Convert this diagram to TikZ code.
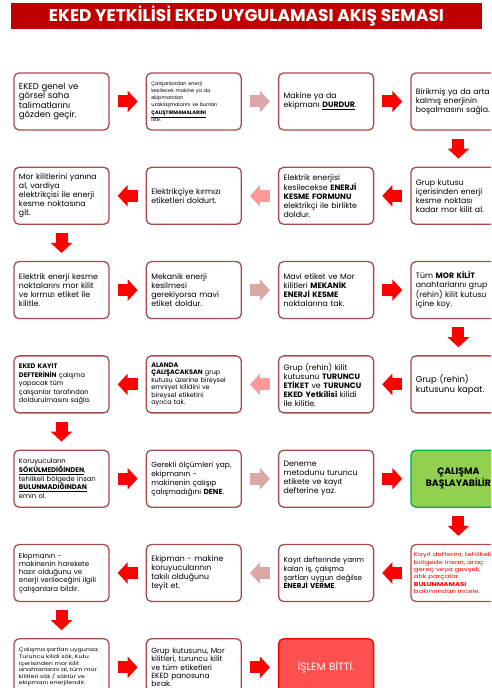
\documentclass[tikz,border=0pt]{standalone}
\usepackage{fontspec}
\setmainfont{Poppins}
\newfontfamily\widefont{Poppins}[FakeStretch=1.25]
\usetikzlibrary{positioning,arrows.meta}

\definecolor{boxline}{HTML}{A94B4B}
\definecolor{titlered}{HTML}{C00000}
\definecolor{palearrow}{HTML}{DBA8A8}
\definecolor{pinkarrow}{HTML}{FF9999}
\definecolor{okgreen}{HTML}{92D050}
\definecolor{okline}{HTML}{00B050}
\definecolor{endred}{HTML}{FF5050}

\tikzset{
  stepbox/.style={draw=boxline, line width=1.3pt, rounded corners=5pt, fill=white,
    text width=85pt, inner xsep=5pt, inner ysep=2pt, minimum height=57pt,
    align=left, font=\fontsize{7.8}{9}\selectfont},
  tinybox/.style={stepbox, font=\fontsize{5}{7.2}\selectfont},
  flow/.style={draw=red, line width=12pt, shorten <=8pt, shorten >=8pt,
    -{Triangle[width=21pt,length=10pt]}},
  paleflow/.style={flow, draw=palearrow},
  pinkflow/.style={flow, draw=pinkarrow},
}

\begin{document}
\begin{tikzpicture}[x=1pt, y=1pt, node distance=36pt]
  \useasboundingbox (0,0) rectangle (491,688);
  \clip (0,0) rectangle (491,688);

  \node[fill=titlered, minimum width=471pt, minimum height=26pt, inner sep=0pt,
    text=white, font=\bfseries\fontsize{17}{19}\selectfont] (title) at (246.5,672)
    {EKED YETKİLİSİ EKED UYGULAMASI AKIŞ SEMASI};

  % row 1
  \node[stepbox, font=\fontsize{8.5}{9.5}\selectfont] (n1) at (61.5,586.5)
    {EKED genel ve\\görsel saha\\talimatlarını\\gözden geçir.};
  \node[tinybox] (n2) [right=of n1]
    {Çalışanlardan enerji\\kesilecek makine ya da\\ekipmandan\\uzaklaşmalarını ve bunları\\\underline{\textbf{ÇALIŞTIRMAMALARINI}}\\iste.};
  \node[stepbox] (n3) [right=of n2]
    {Makine ya da\\ekipmanı \underline{\textbf{DURDUR}}.};
  \node[stepbox] (n4) [right=of n3]
    {Birikmiş ya da arta\\kalmış enerjinin\\boşalmasını sağla.};

  % row 2
  \node[stepbox] (n5) [below=of n4]
    {Grup kutusu\\içerisinden enerji\\kesme noktası\\kadar mor kilit al.};
  \node[stepbox] (n6) [left=of n5]
    {Elektrik enerjisi\\kesilecekse \textbf{ENERJİ}\\\textbf{KESME FORMUNU}\\elektrikçi ile birlikte\\doldur.};
  \node[stepbox] (n7) [left=of n6]
    {Elektrikçiye kırmızı\\etiketleri doldurt.};
  \node[stepbox] (n8) [left=of n7]
    {Mor kilitlerini yanına\\al, vardiya\\elektrikçisi ile enerji\\kesme noktasına\\git.};

  % row 3
  \node[stepbox] (n9) [below=of n8]
    {Elektrik enerji kesme\\noktalarını mor kilit\\ve kırmızı etiket ile\\kilitle.};
  \node[stepbox] (n10) [right=of n9]
    {Mekanik enerji\\kesilmesi\\gerekiyorsa mavi\\etiket doldur.};
  \node[stepbox] (n11) [right=of n10]
    {Mavi etiket ve Mor\\kilitleri \textbf{MEKANİK}\\\textbf{ENERJİ KESME}\\noktalarına tak.};
  \node[stepbox] (n12) [right=of n11]
    {Tüm \textbf{MOR KİLİT}\\anahtarlarını grup\\(rehin) kilit kutusu\\içine koy.};

  % row 4
  \node[stepbox, font=\fontsize{8.5}{9.5}\selectfont] (n13) [below=of n12]
    {Grup (rehin)\\kutusunu kapat.};
  \node[stepbox] (n14) [left=of n13]
    {Grup (rehin) kilit\\kutusunu \textbf{TURUNCU}\\\textbf{ETİKET} ve \textbf{TURUNCU}\\\textbf{EKED Yetkilisi} kilidi\\ile kilitle.};
  \node[stepbox, font=\fontsize{6.5}{7.5}\selectfont] (n15) [left=of n14]
    {\textbf{ALANDA}\\\textbf{ÇALIŞACAKSAN} grup\\kutusu üzerine bireysel\\emniyet kilidini ve\\bireysel etiketini\\ayrıca tak.};
  \node[stepbox, font=\fontsize{6.6}{8.5}\selectfont] (n16) [left=of n15]
    {\textbf{EKED KAYIT}\\\textbf{DEFTERİNİN} çalışma\\yapacak tüm\\çalışanlar tarafından\\doldurulmasını sağla.};

  % row 5
  \node[stepbox, font=\fontsize{6.8}{8.8}\selectfont] (n17) [below=of n16]
    {Koruyucuların\\\underline{\textbf{SÖKÜLMEDİĞİNDEN}},\\tehlikeli bölgede insan\\\underline{\textbf{BULUNMADIĞINDAN}}\\emin ol.};
  \node[stepbox, font=\fontsize{7.4}{9}\selectfont] (n18) [right=of n17]
    {Gerekli ölçümleri yap,\\ekipmanın -\\makinenin çalışıp\\çalışmadığını \textbf{DENE}.};
  \node[stepbox] (n19) [right=of n18]
    {Deneme\\metodunu turuncu\\etikete ve kayıt\\defterine yaz.};
  \node[stepbox, fill=okgreen, draw=okline, align=center,
    font=\bfseries\fontsize{9.3}{12.5}\selectfont] (n20) [right=of n19]
    {ÇALIŞMA\\BAŞLAYABİLİR};

  % row 6
  \node[stepbox, inner xsep=3pt, text width=89pt, text=red,
    font=\widefont\fontsize{5.6}{7.3}\selectfont] (n21) [below=of n20]
    {Kayıt defterini, tehlikeli\\bölgede insan, araç\\gereç veya gevşek,\\atık parçalar\\\textbf{BULUNMAMASI}\\bakımından incele.};
  \node[stepbox, font=\fontsize{7.2}{8.6}\selectfont] (n22) [left=of n21]
    {Kayıt defterinde yarım\\kalan iş, çalışma\\şartları uygun değilse\\\textbf{ENERJİ VERME}.};
  \node[stepbox] (n23) [left=of n22]
    {Ekipman - makine\\koruyucularının\\takılı olduğunu\\teyit et.};
  \node[stepbox, font=\fontsize{7}{8.2}\selectfont] (n24) [left=of n23]
    {Ekipmanın -\\makinenin harekete\\hazır olduğunu ve\\enerji verileceğini ilgili\\çalışanlara bildir.};

  % row 7
  \node[stepbox, font=\widefont\fontsize{5}{6.6}\selectfont] (n25) [below=of n24]
    {Çalışma şartları uygunsa;\\Turuncu kilidi sök, Kutu\\içerisinden mor kilit\\anahtarlarını al, tüm mor\\kilitleri sök / söktür ve\\ekipmanı enerjilendir.};
  \node[stepbox, font=\fontsize{7.5}{8.3}\selectfont] (n26) [right=of n25]
    {Grup kutusunu, Mor\\kilitleri, turuncu kilit\\ve tüm etiketleri\\EKED panosuna\\bırak.};
  \node[stepbox, fill=endred, draw=red, text=white, align=center,
    font=\fontsize{10.5}{12}\selectfont] (n27) [right=of n26]
    {İŞLEM BİTTİ.};

  \draw[flow] (n1) -- (n2);
  \draw[paleflow] (n2) -- (n3);
  \draw[flow] (n3) -- (n4);
  \draw[flow] (n4) -- (n5);
  \draw[flow] (n5) -- (n6);
  \draw[pinkflow] (n6) -- (n7);
  \draw[flow] (n7) -- (n8);
  \draw[flow] (n8) -- (n9);
  \draw[flow] (n9) -- (n10);
  \draw[paleflow] (n10) -- (n11);
  \draw[flow] (n11) -- (n12);
  \draw[flow] (n12) -- (n13);
  \draw[flow] (n13) -- (n14);
  \draw[pinkflow] (n14) -- (n15);
  \draw[flow] (n15) -- (n16);
  \draw[flow] (n16) -- (n17);
  \draw[flow] (n17) -- (n18);
  \draw[paleflow] (n18) -- (n19);
  \draw[flow] (n19) -- (n20);
  \draw[flow] (n20) -- (n21);
  \draw[flow] (n21) -- (n22);
  \draw[paleflow] (n22) -- (n23);
  \draw[flow] (n23) -- (n24);
  \draw[flow] (n24) -- (n25);
  \draw[flow] (n25) -- (n26);
  \draw[flow] (n26) -- (n27);
\end{tikzpicture}
\end{document}
